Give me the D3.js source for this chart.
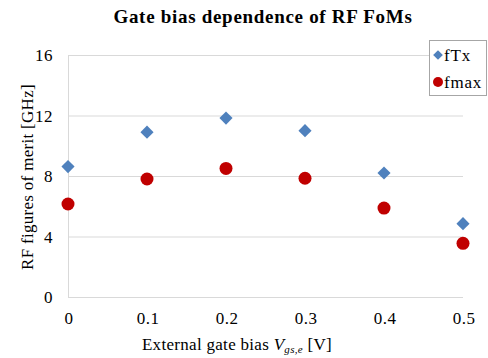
<!DOCTYPE html>
<html>
<head>
<meta charset="utf-8">
<script src="https://cdn.jsdelivr.net/npm/d3@7"></script>
<style>
  body { margin: 0; background: #fff; }
  svg text { font-family: "Liberation Serif", "Times New Roman", serif; fill: #000; }
</style>
</head>
<body>
<div id="chart"></div>
<script>
// Daten
const bias = [0, 0.1, 0.2, 0.3, 0.4, 0.5];
const fTx = [8.62, 10.9, 11.83, 11.0, 8.2, 4.85];
const fmax = [6.15, 7.8, 8.5, 7.85, 5.88, 3.55];
const xTicks = [0, 0.1, 0.2, 0.3, 0.4, 0.5];
const yTicks = [0, 4, 8, 12, 16];

const width = 488, height = 358;
const svg = d3.select("#chart").append("svg")
    .attr("width", width)
    .attr("height", height);

const x = d3.scaleLinear().domain([0, 0.5]).range([68, 463]);
const y = d3.scaleLinear().domain([0, 16]).range([297, 55]);

// Gitterlinien
svg.append("g").selectAll("line")
    .data(yTicks)
    .join("line")
    .attr("x1", x(0)).attr("x2", x(0.5))
    .attr("y1", d => y(d) + 0.5).attr("y2", d => y(d) + 0.5)
    .style("stroke", "#d9d9d9")
    .style("stroke-width", 1);

// linke Achse
svg.append("line")
    .attr("x1", x(0) + 0.5).attr("x2", x(0) + 0.5)
    .attr("y1", y(0)).attr("y2", y(16))
    .style("stroke", "#d9d9d9");

// Achsenbeschriftung
svg.append("g").selectAll("text")
    .data(yTicks)
    .join("text")
    .attr("x", 53)
    .attr("y", d => y(d) + 6)
    .attr("text-anchor", "end")
    .style("font-size", "17px")
    .style("letter-spacing", "0.5px")
    .text(d => d);

svg.append("g").selectAll("text")
    .data(xTicks)
    .join("text")
    .attr("x", d => x(d) + 1)
    .attr("y", 324)
    .attr("text-anchor", "middle")
    .style("font-size", "17px")
    .style("letter-spacing", "0.5px")
    .text(d => d);

// Titel
svg.append("text")
    .attr("x", 263)
    .attr("y", 23)
    .attr("text-anchor", "middle")
    .style("font-size", "19px")
    .style("font-weight", "bold")
    .style("letter-spacing", "0.7px")
    .text("Gate bias dependence of RF FoMs");

// y-Titel
svg.append("text")
    .attr("transform", "translate(33,177) rotate(-90)")
    .attr("text-anchor", "middle")
    .style("font-size", "17px")
    .style("letter-spacing", "0.3px")
    .text("RF figures of merit [GHz]");

// x-Titel
const xt = svg.append("text")
    .attr("x", 237)
    .attr("y", 350)
    .attr("text-anchor", "middle")
    .style("font-size", "17px")
    .style("letter-spacing", "0.3px");
xt.append("tspan").text("External gate bias ");
xt.append("tspan").style("font-style", "italic").text("V");
xt.append("tspan").style("font-style", "italic").style("font-size", "11px").attr("dy", 3).text("gs,e");
xt.append("tspan").attr("dy", -3).text(" [V]");

// Punkte
const diamond = d3.symbol().type(d3.symbolDiamond2).size(110);
svg.append("g").selectAll("path")
    .data(bias)
    .join("path")
    .attr("d", diamond)
    .attr("transform", (d, i) => `translate(${x(d)},${y(fTx[i])})`)
    .style("fill", "#4f81bd");

svg.append("g").selectAll("circle")
    .data(bias)
    .join("circle")
    .attr("cx", d => x(d))
    .attr("cy", (d, i) => y(fmax[i]))
    .attr("r", 6.5)
    .style("fill", "#c00000");

// Legende
const lg = svg.append("g");
lg.append("rect")
    .attr("x", 429.5).attr("y", 40.5)
    .attr("width", 57).attr("height", 55)
    .style("fill", "#fff")
    .style("stroke", "#a6a6a6");
lg.append("path")
    .attr("d", d3.symbol().type(d3.symbolDiamond2).size(60))
    .attr("transform", "translate(438,55)")
    .style("fill", "#4f81bd");
lg.append("text").attr("x", 444).attr("y", 61).style("font-size", "17px").style("letter-spacing", "0.8px").text("fTx");
lg.append("circle")
    .attr("cx", 438).attr("cy", 82).attr("r", 5)
    .style("fill", "#c00000");
lg.append("text").attr("x", 444).attr("y", 88).style("font-size", "17px").style("letter-spacing", "0.8px").text("fmax");
</script>
</body>
</html>
